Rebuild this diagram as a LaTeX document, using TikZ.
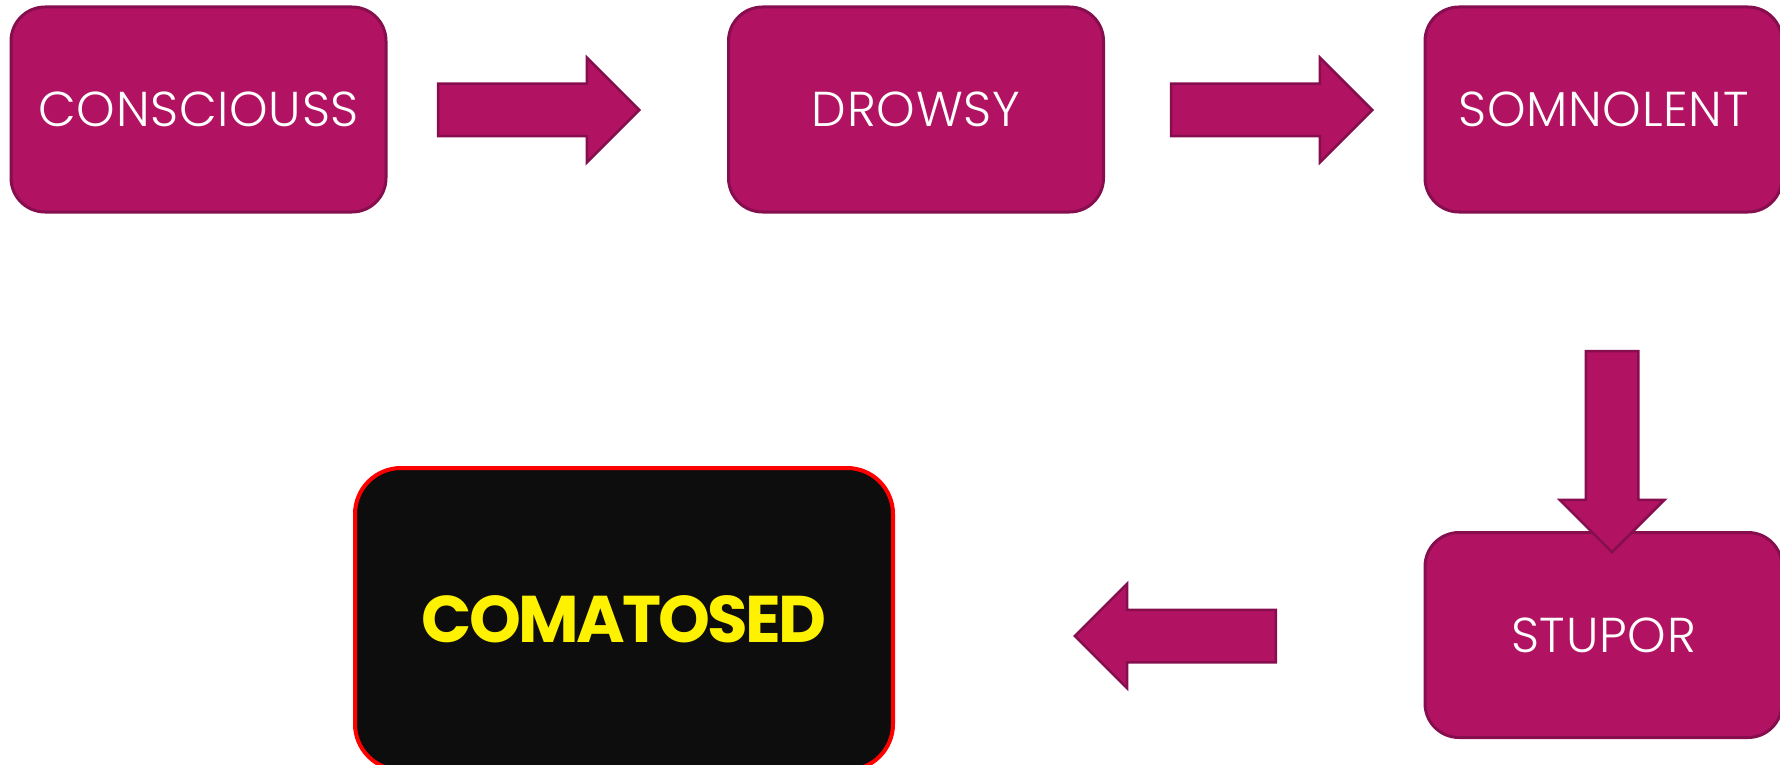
\documentclass[tikz,border=0pt]{standalone}
\usepackage{fontspec}
\setmainfont{Poppins}[UprightFont=* Light, BoldFont=* Bold]
\usetikzlibrary{shapes.arrows}

\definecolor{stagefill}{RGB}{177,18,98}
\definecolor{stageline}{RGB}{135,14,78}
\definecolor{comafill}{RGB}{13,13,13}

\tikzset{
  stagebox/.style={rounded corners=34pt, fill=stagefill, draw=stageline, line width=3pt,
    minimum width=375pt, minimum height=205pt, text=white,
    font=\fontsize{49}{49}\selectfont\addfontfeatures{LetterSpace=1.5}},
  blockarrow/.style={single arrow, fill=stagefill, draw=stageline, line width=2.5pt,
    minimum height=201pt, single arrow head extend=26pt, anchor=tip,
    single arrow tip angle=90, inner xsep=0pt, inner ysep=25pt},
  downarrow/.style={blockarrow, shape border rotate=270, inner xsep=25pt, inner ysep=0pt}
}

\begin{document}
\begin{tikzpicture}[x=1pt,y=1pt,yscale=-1,xscale=1]
\clip (0,0) rectangle (1780,765);

%Shape: Rounded Rectangle [stages]
\node[stagebox] (conscious) at (198.5,109.5) {CONSCIOUSS};
\node[stagebox] (drowsy) at (916,109.5) {DROWSY};
\node[stagebox, minimum width=357pt] (somnolent) at (1603.5,109.5) {SOMNOLENT};
\node[stagebox, minimum width=357pt] (stupor) at (1603.5,635) {STUPOR};

%Shape: Rounded Rectangle [last stage]
\node[rounded corners=46pt, fill=comafill, draw=red, line width=4pt, minimum width=538pt,
  minimum height=302pt, text=yellow,
  font=\fontsize{66}{66}\selectfont\bfseries\addfontfeatures{LetterSpace=-4}]
  (comatosed) at (624,619) {COMATOSED};

%Shape: Block Arrows (placed by their tips)
\node[blockarrow] (toDrowsy) at (641,110) {};
\node[blockarrow] (toSomnolent) at (1374,110) {};
\node[downarrow] (toStupor) at (1612,554) {};
\node[blockarrow, shape border rotate=180] (toComatosed) at (1073,636) {};
\end{tikzpicture}
\end{document}
